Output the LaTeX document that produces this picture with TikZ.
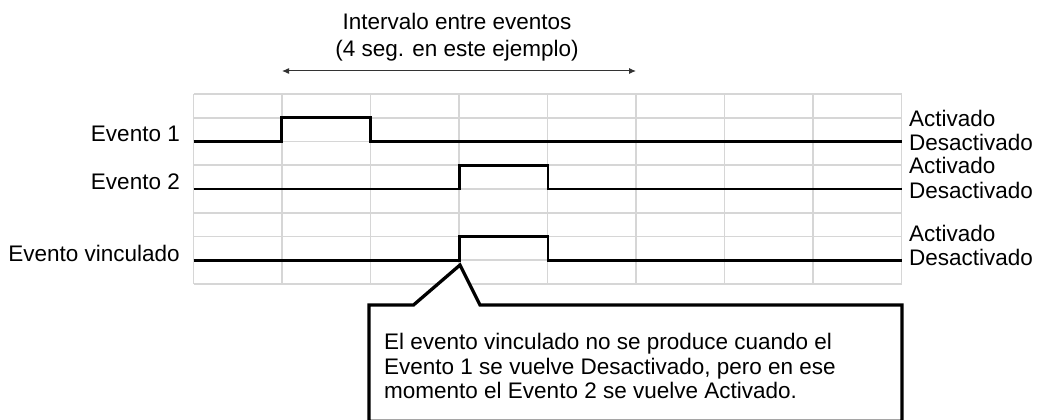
\documentclass[tikz,border=0pt]{standalone}
\usepackage{fontspec}
\setmainfont{Liberation Sans}
\usetikzlibrary{arrows.meta}
\definecolor{gridgray}{HTML}{D6D6D6}
\definecolor{arrowgray}{HTML}{333333}
\begin{document}
\begin{tikzpicture}[x=1pt,y=-1pt,
  gridline/.style={draw=gridgray,line width=1.6pt},
  signal/.style={draw=black,line width=2.6pt,line join=miter},
  lbl/.style={font=\fontsize{22.5}{24}\selectfont,inner sep=0pt},
  calloutbox/.style={draw=black,line width=3.3pt,line join=miter,fill=white},
  dimarrow/.style={draw=arrowgray,line width=1pt,{Latex[length=7pt,width=6pt]}-{Latex[length=7pt,width=6pt]}}]
\useasboundingbox (0,0) rectangle (1041,420);
% grid
\foreach \i in {0,...,8}{
  \draw[gridline] (193.5+88.5*\i,94) -- (193.5+88.5*\i,284);
  \draw[gridline] (193.5,94+23.75*\i) -- (901.5,94+23.75*\i);
}
% signals
\draw[signal] (193.5,141.5) -- (281.5,141.5) -- (281.5,117.75) -- (370.5,117.75) -- (370.5,141.5) -- (901.5,141.5);
\draw[signal] (193.5,189) -- (459.5,189) -- (459.5,165.25) -- (548,165.25) -- (548,189) -- (901.5,189);
\draw[signal] (193.5,260.25) -- (459.5,260.25) -- (459.5,236.5) -- (548,236.5) -- (548,260.25) -- (901.5,260.25);
% left labels
\node[lbl,anchor=base east] (ev1) at (180,141.5) {Evento 1};
\node[lbl,anchor=base east] (ev2) at (180,189) {Evento 2};
\node[lbl,anchor=base east] (evv) at (180,261) {Evento vinculado};
% right labels
\node[lbl,anchor=base west] (a1) at (909,126) {Activado};
\node[lbl,anchor=base west] (d1) at (909,150) {Desactivado};
\node[lbl,anchor=base west] (a2) at (909,173) {Activado};
\node[lbl,anchor=base west] (d2) at (909,198) {Desactivado};
\node[lbl,anchor=base west] (a3) at (909,241) {Activado};
\node[lbl,anchor=base west] (d3) at (909,265) {Desactivado};
% interval
\node[lbl,anchor=base] (int1) at (457,30) {Intervalo entre eventos};
\node[lbl,anchor=base] (int2) at (457,56.5) {(4 seg. en este ejemplo)};
\coordinate (al) at (282,71);
\coordinate (ar) at (636,71);
\draw[dimarrow] (al) -- (ar);
% callout
\coordinate (tip) at (460,265);
\draw[calloutbox] (369,421.3) -- (369,305) -- (413.5,305) -- (tip) -- (480,305) -- (902,305) -- (902,421.3) -- cycle;
\node[inner sep=0pt,anchor=base west,align=left,font=\fontsize{22.5}{24.3}\selectfont] (note) at (384,398.5)
 {El evento vinculado no se produce cuando el\\Evento 1 se vuelve Desactivado, pero en ese\\momento el Evento 2 se vuelve Activado.};
\end{tikzpicture}
\end{document}
